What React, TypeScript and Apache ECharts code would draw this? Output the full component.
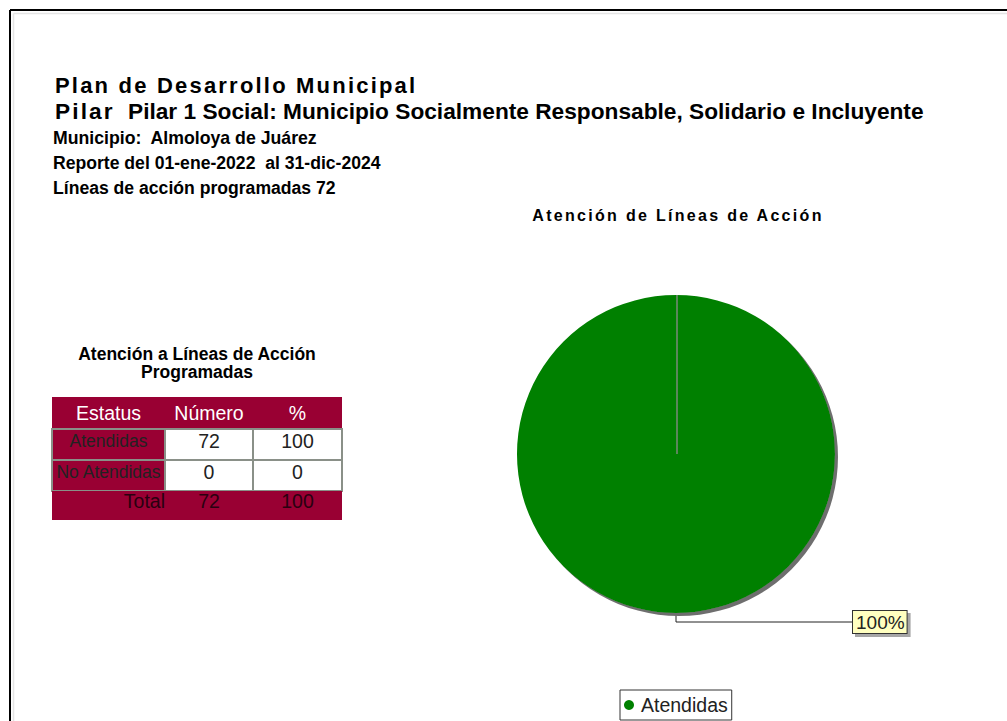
import React, { useEffect, useRef } from "react";
import * as echarts from "echarts";

const categories = ["Atendidas", "No Atendidas"];
const values = [72, 0];
const percents = [100, 0];
const tableHeaders = ["Estatus", "Número", "%"];
const totalValue = 72;
const totalPercent = 100;

const headerLine1 = "Plan de Desarrollo Municipal";
const headerPilarLabel = "Pilar";
const headerPilar = "Pilar 1 Social: Municipio Socialmente Responsable, Solidario e Incluyente";
const headerMunicipio = "Municipio:  Almoloya de Juárez";
const headerReporte = "Reporte del 01-ene-2022  al 31-dic-2024";
const headerLineas = "Líneas de acción programadas 72";
const pieTitle = "Atención de Líneas de Acción";
const tableTitle1 = "Atención a Líneas de Acción";
const tableTitle2 = "Programadas";

const FONT = "'Liberation Sans', Arial, sans-serif";
const CRIMSON = "#990033";
const GRID = "#8a9088";
const PIE_CENTER = [676, 454];
const PIE_RADIUS = 159;

export default function App() {
  const ref = useRef<HTMLDivElement>(null);
  useEffect(() => {
    document.body.style.margin = "0";
    const chart = echarts.init(ref.current!, null, { renderer: "svg" });

    const colX = [52, 165, 253, 342];
    const rowY = [397, 429, 460, 491, 520];

    const txt = (text: string, x: number, y: number, size: number, opts: any = {}) => ({
      type: "text",
      x,
      y,
      silent: true,
      style: {
        text,
        fontFamily: FONT,
        fontSize: size,
        fontWeight: opts.bold ? "bold" : "normal",
        fill: opts.fill || "#000",
        align: opts.align || "left",
        verticalAlign: "middle",
      },
    });

    const cells: any[] = [];
    cells.push({ type: "rect", shape: { x: colX[0], y: rowY[0], width: colX[3] - colX[0], height: rowY[1] - rowY[0] }, style: { fill: CRIMSON } });
    tableHeaders.forEach((h, i) => {
      cells.push(txt(h, (colX[i] + colX[i + 1]) / 2, (rowY[0] + rowY[1]) / 2, 19.5, { fill: "#ffffff", align: "center" }));
    });
    categories.forEach((c, r) => {
      const y0 = rowY[r + 1];
      const y1 = rowY[r + 2];
      const cy = (y0 + y1) / 2 - 4;
      cells.push({ type: "rect", shape: { x: colX[0], y: y0, width: colX[1] - colX[0], height: y1 - y0 }, style: { fill: CRIMSON, stroke: GRID, lineWidth: 2 } });
      cells.push({ type: "rect", shape: { x: colX[1], y: y0, width: colX[2] - colX[1], height: y1 - y0 }, style: { fill: "#ffffff", stroke: GRID, lineWidth: 2 } });
      cells.push({ type: "rect", shape: { x: colX[2], y: y0, width: colX[3] - colX[2], height: y1 - y0 }, style: { fill: "#ffffff", stroke: GRID, lineWidth: 2 } });
      cells.push(txt(c, (colX[0] + colX[1]) / 2, cy, 17.5, { fill: "#222", align: "center" }));
      cells.push(txt(String(values[r]), (colX[1] + colX[2]) / 2, cy, 19.5, { fill: "#222", align: "center" }));
      cells.push(txt(String(percents[r]), (colX[2] + colX[3]) / 2, cy, 19.5, { fill: "#222", align: "center" }));
    });
    const ty = (rowY[3] + rowY[4]) / 2 - 5;
    cells.push({ type: "rect", shape: { x: colX[0], y: rowY[3], width: colX[3] - colX[0], height: rowY[4] - rowY[3] }, style: { fill: CRIMSON } });
    cells.push(txt("Total", colX[1], ty, 19.5, { fill: "#2a0010", align: "right" }));
    cells.push(txt(String(totalValue), (colX[1] + colX[2]) / 2, ty, 19.5, { fill: "#2a0010", align: "center" }));
    cells.push(txt(String(totalPercent), (colX[2] + colX[3]) / 2, ty, 19.5, { fill: "#2a0010", align: "center" }));

    const graphics: any[] = [
      { type: "line", silent: true, shape: { x1: 10, y1: 10, x2: 1007, y2: 10 }, style: { stroke: "#000", lineWidth: 2 } },
      { type: "line", silent: true, shape: { x1: 10, y1: 10, x2: 10, y2: 721 }, style: { stroke: "#000", lineWidth: 2 } },
      { type: "line", silent: true, shape: { x1: 13.5, y1: 13.5, x2: 1007, y2: 13.5 }, style: { stroke: "#e4e4e4", lineWidth: 1.5 } },
      { type: "line", silent: true, shape: { x1: 13.5, y1: 13.5, x2: 13.5, y2: 721 }, style: { stroke: "#e4e4e4", lineWidth: 1.5 } },
      txt(headerLine1, 55, 85, 22, { bold: true }),
      txt(headerPilarLabel, 55, 111, 22.7, { bold: true }),
      txt(headerPilar, 128, 111, 22.7, { bold: true }),
      txt(headerMunicipio, 53, 137.5, 17.7, { bold: true }),
      txt(headerReporte, 53, 162.5, 17.6, { bold: true }),
      txt(headerLineas, 53, 187.5, 17.6, { bold: true }),
      txt(pieTitle, 678, 215, 16, { bold: true, align: "center" }),
      txt(tableTitle1, 197, 354, 17.5, { bold: true, align: "center" }),
      txt(tableTitle2, 197, 372, 17.5, { bold: true, align: "center" }),
      ...cells,
      // slice boundary at the pie's start angle
      {
        type: "line",
        silent: true,
        z: 10,
        shape: { x1: PIE_CENTER[0] + 1, y1: PIE_CENTER[1], x2: PIE_CENTER[0] + 1, y2: PIE_CENTER[1] - PIE_RADIUS },
        style: { stroke: "#7a8a7a", lineWidth: 1.5 },
      },
    ];

    chart.setOption({
      animation: false,
      backgroundColor: "#ffffff",
      legend: {
        data: [categories[0]],
        left: 620,
        top: 690,
        orient: "horizontal",
        icon: "circle",
        itemWidth: 10,
        itemHeight: 10,
        itemGap: 4,
        padding: [5, 4, 5, 4],
        borderColor: "#333",
        borderWidth: 1,
        itemStyle: { borderWidth: 0 },
        textStyle: { fontFamily: FONT, fontSize: 19.5, color: "#222", padding: [0, 0, 0, 2] },
      },
      graphic: graphics,
      series: [
        {
          type: "pie",
          center: PIE_CENTER,
          radius: PIE_RADIUS,
          startAngle: 90,
          clockwise: true,
          silent: true,
          stillShowZeroSum: true,
          minShowLabelAngle: 0,
          avoidLabelOverlap: false,
          itemStyle: {
            borderWidth: 0,
            shadowColor: "rgba(110,110,110,1)",
            shadowBlur: 1,
            shadowOffsetX: 3,
            shadowOffsetY: 3,
          },
          label: {
            show: true,
            position: "outside",
            formatter: "{d}%",
            fontFamily: FONT,
            fontSize: 19,
            color: "#222",
            backgroundColor: "#ffffc0",
            borderColor: "#333",
            borderWidth: 1,
            padding: [2, 2, 1, 3],
            shadowColor: "rgba(0,0,0,0.35)",
            shadowOffsetX: 3,
            shadowOffsetY: 3,
            shadowBlur: 1,
            distanceToLabelLine: 0,
          },
          labelLine: {
            show: true,
            length: 9,
            length2: 177,
            lineStyle: { color: "#222", width: 1 },
          },
          data: categories.map((c, i) => ({
            name: c,
            value: values[i],
            itemStyle: { color: i === 0 ? "#008000" : "#808080" },
            label: { show: values[i] > 0 },
            labelLine: { show: values[i] > 0 },
          })),
        },
      ],
    });

    const spacing: Record<string, string> = {
      [headerLine1]: "2.2px",
      [headerPilarLabel]: "2.1px",
      [pieTitle]: "2.3px",
    };
    ref.current!.querySelectorAll("text").forEach((t) => {
      const s = spacing[(t.textContent || "").trim()];
      if (s) t.setAttribute("letter-spacing", s);
    });

    return () => chart.dispose();
  }, []);
  return <div ref={ref} style={{ position: "absolute", left: 0, top: 0, width: 1007, height: 721 }} />;
}
